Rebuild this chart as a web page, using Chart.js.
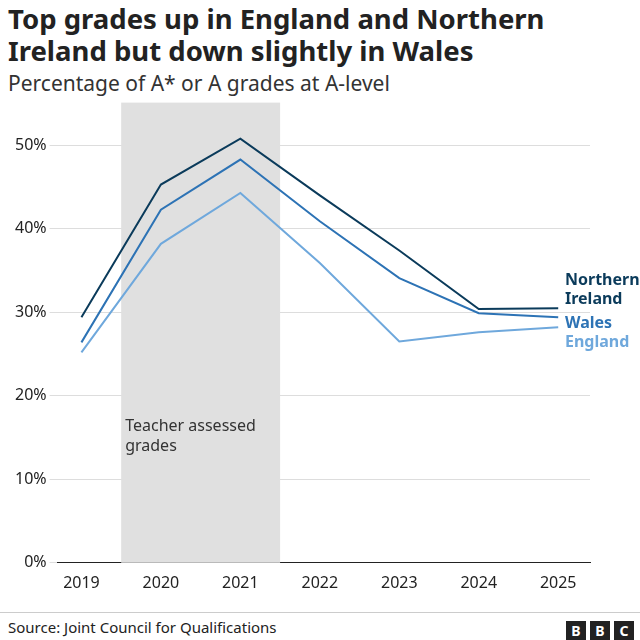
<!DOCTYPE html><html><head><meta charset="utf-8">
<script src="https://cdn.jsdelivr.net/npm/chart.js@4"></script>
<style>
body{margin:0;background:#fff;font-family:"Noto Sans",sans-serif;width:640px;height:640px;position:relative;overflow:hidden}
#t{position:absolute;left:8px;top:3px;font-size:27.5px;font-weight:bold;line-height:32px;color:#222}
#s{position:absolute;left:8px;top:69px;font-size:21px;color:#333}
#c{position:absolute;left:0;top:96px}
#f{position:absolute;left:0;top:612px;width:640px;border-top:1px solid #ccc;padding-top:4px;font-size:15px;color:#222}
#f span{margin-left:8px}
.b{position:absolute;top:8px;width:20px;height:20px;background:#222;color:#fff;font-weight:bold;font-size:14px;text-align:center;line-height:20px}
</style></head><body>
<div id="t">Top grades up in England and Northern<br>Ireland but down slightly in Wales</div>
<div id="s">Percentage of A* or A grades at A-level</div>
<canvas id="c" width="640" height="500"></canvas>
<div id="f"><span>Source: Joint Council for Qualifications</span>
<div class="b" style="left:566px">B</div><div class="b" style="left:590px">B</div><div class="b" style="left:614px">C</div></div>
<script>
const years=[2019,2020,2021,2022,2023,2024,2025];
const northernIreland=[29.4,45.3,50.8,44.0,37.4,30.4,30.5];
const wales=[26.4,42.3,48.3,40.9,34.1,29.9,29.4];
const england=[25.2,38.2,44.3,35.9,26.5,27.6,28.2];
const yTicks=[0,10,20,30,40,50];
const pts=a=>years.map((y,i)=>({x:y,y:a[i]}));
const shade={id:'shade',beforeDatasetsDraw(c){const{ctx,chartArea:a,scales:{x}}=c;ctx.save();ctx.fillStyle='#e0e0e0';
const l=x.getPixelForValue(2019.5),r=x.getPixelForValue(2021.5);ctx.fillRect(l,a.top-6,r-l,a.bottom-a.top+6);
ctx.fillStyle='#333';ctx.font='16px "Noto Sans"';ctx.fillText('Teacher assessed',l+4,c.scales.y.getPixelForValue(15.8));ctx.fillText('grades',l+4,c.scales.y.getPixelForValue(13.4));ctx.restore();}};
const labels={id:'labels',afterDatasetsDraw(c){const ctx=c.ctx;ctx.save();ctx.font='bold 16px "Noto Sans"';
[['Northern',33.8,'#0b3b5b'],['Ireland',31.5,'#0b3b5b'],['Wales',28.7,'#2d73b5'],['England',26.4,'#6fa8dc']].forEach(([t,v,col])=>{ctx.fillStyle=col;ctx.textBaseline='middle';ctx.fillText(t,565,c.scales.y.getPixelForValue(v));});ctx.restore();}};
new Chart(document.getElementById('c'),{type:'line',
data:{datasets:[
{data:pts(england),borderColor:'#6fa8dc'},
{data:pts(wales),borderColor:'#2d73b5'},
{data:pts(northernIreland),borderColor:'#0b3b5b'}]},
options:{responsive:false,animation:false,layout:{padding:{top:0,right:50,left:12,bottom:0}},
elements:{point:{radius:0},line:{borderWidth:2,tension:0}},
plugins:{legend:{display:false},tooltip:{enabled:false}},
scales:{x:{type:'linear',min:2018.7,max:2025.4,grid:{display:false},border:{color:'#222'},
ticks:{stepSize:1,color:'#222',font:{size:16,family:'Noto Sans'},callback:v=>years.includes(v)?String(v):''},afterBuildTicks:s=>{s.ticks=years.map(v=>({value:v}));}},
y:{min:0,max:54.4,afterBuildTicks:s=>{s.ticks=yTicks.map(v=>({value:v}));},border:{display:false},grid:{color:'#ddd'},
ticks:{color:'#222',font:{size:16,family:'Noto Sans'},callback:v=>v+'%'}}}},
plugins:[shade,labels]});
</script></body></html>
